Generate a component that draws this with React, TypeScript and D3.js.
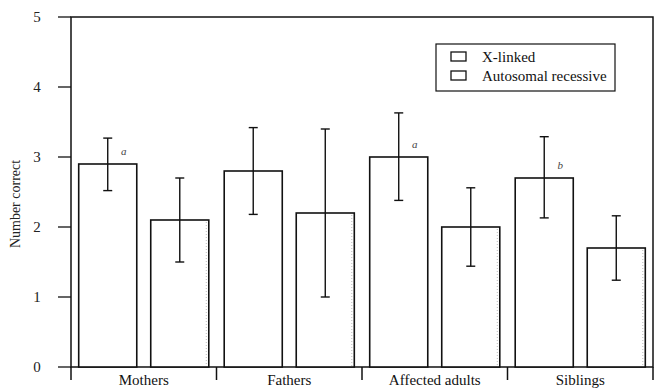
import { useEffect, useRef } from "react";
import * as d3 from "d3";

const categories = ["Mothers", "Fathers", "Affected adults", "Siblings"];
const seriesNames = ["X-linked", "Autosomal recessive"];

const xLinkedMean = [2.9, 2.8, 3.0, 2.7];
const xLinkedLow = [2.52, 2.18, 2.38, 2.13];
const xLinkedHigh = [3.27, 3.42, 3.63, 3.29];

const arMean = [2.1, 2.2, 2.0, 1.7];
const arLow = [1.5, 1.0, 1.44, 1.24];
const arHigh = [2.7, 3.4, 2.56, 2.16];

const marks = ["a", "", "a", "b"];
const yTicks = [0, 1, 2, 3, 4, 5];

export default function App() {
  const ref = useRef<SVGSVGElement>(null);

  useEffect(() => {
    document.body.style.margin = "0";
    const width = 659;
    const height = 390;
    const left = 71;
    const right = 653;
    const top = 17;
    const bottom = 367;

    const svg = d3.select(ref.current);
    svg.selectAll("*").remove();
    svg.attr("width", width).attr("height", height);

    const x0 = d3.scaleBand().domain(categories).range([left, right]);
    const x1 = d3
      .scaleBand()
      .domain(seriesNames)
      .range([0, x0.bandwidth()])
      .paddingInner(0.194)
      .paddingOuter(0.107);
    const y = d3.scaleLinear().domain([0, 5]).range([bottom, top]);

    const rows = categories.map((c, i) => [
      { cat: c, s: seriesNames[0], v: xLinkedMean[i], lo: xLinkedLow[i], hi: xLinkedHigh[i], mark: marks[i] },
      { cat: c, s: seriesNames[1], v: arMean[i], lo: arLow[i], hi: arHigh[i], mark: "" },
    ]).flat();

    // frame
    svg
      .append("rect")
      .attr("x", left)
      .attr("y", top)
      .attr("width", right - left)
      .attr("height", bottom - top)
      .attr("fill", "none")
      .attr("stroke", "#111")
      .attr("stroke-width", 1.5);

    // bars
    const g = svg.append("g");
    g.selectAll("rect.bar")
      .data(rows)
      .join("rect")
      .attr("class", "bar")
      .attr("x", (d) => x0(d.cat)! + x1(d.s)!)
      .attr("y", (d) => y(d.v))
      .attr("width", x1.bandwidth())
      .attr("height", (d) => y(0) - y(d.v))
      .attr("fill", "white")
      .attr("stroke", "#111")
      .attr("stroke-width", 1.6);

    // faint dotted texture on autosomal recessive bars
    g.selectAll("line.dots")
      .data(rows.filter((d) => d.s === seriesNames[1]))
      .join("line")
      .attr("class", "dots")
      .attr("x1", (d) => x0(d.cat)! + x1(d.s)! + x1.bandwidth() - 2.5)
      .attr("x2", (d) => x0(d.cat)! + x1(d.s)! + x1.bandwidth() - 2.5)
      .attr("y1", (d) => y(d.v) + 2)
      .attr("y2", y(0) - 1)
      .attr("stroke", "#bbb")
      .attr("stroke-dasharray", "1,2");

    // error bars
    const cap = 4.5;
    const cx = (d) => x0(d.cat)! + x1(d.s)! + x1.bandwidth() / 2;
    const eb = g.selectAll("g.err").data(rows).join("g").attr("class", "err").attr("stroke", "#111").attr("stroke-width", 1.4);
    eb.append("line").attr("x1", cx).attr("x2", cx).attr("y1", (d) => y(d.lo)).attr("y2", (d) => y(d.hi));
    eb.append("line").attr("x1", (d) => cx(d) - cap).attr("x2", (d) => cx(d) + cap).attr("y1", (d) => y(d.hi)).attr("y2", (d) => y(d.hi));
    eb.append("line").attr("x1", (d) => cx(d) - cap).attr("x2", (d) => cx(d) + cap).attr("y1", (d) => y(d.lo)).attr("y2", (d) => y(d.lo));

    // significance marks
    g.selectAll("text.mark")
      .data(rows.filter((d) => d.mark))
      .join("text")
      .attr("class", "mark")
      .attr("x", (d) => cx(d) + 16)
      .attr("y", (d) => y(d.v) - 9)
      .attr("text-anchor", "middle")
      .attr("font-style", "italic")
      .attr("font-size", 11)
      .attr("fill", "#444")
      .text((d) => d.mark);

    // y axis ticks
    const ya = svg.append("g");
    ya.selectAll("line")
      .data(yTicks)
      .join("line")
      .attr("x1", left - 13)
      .attr("x2", left)
      .attr("y1", (d) => y(d))
      .attr("y2", (d) => y(d))
      .attr("stroke", "#111")
      .attr("stroke-width", 1.3);
    ya.selectAll("text")
      .data(yTicks)
      .join("text")
      .attr("x", left - 34)
      .attr("y", (d) => y(d))
      .attr("dy", "0.35em")
      .attr("text-anchor", "middle")
      .attr("font-size", 15)
      .attr("fill", "#222")
      .text((d) => d);
    svg
      .append("line")
      .attr("x1", left)
      .attr("x2", left)
      .attr("y1", bottom)
      .attr("y2", bottom + 13)
      .attr("stroke", "#111")
      .attr("stroke-width", 1.5);

    svg
      .append("text")
      .attr("transform", `translate(20,${(top + bottom) / 2 + 12}) rotate(-90)`)
      .attr("text-anchor", "middle")
      .attr("font-size", 14)
      .attr("fill", "#222")
      .text("Number correct");

    // x axis separators and labels
    svg
      .append("g")
      .selectAll("line")
      .data(categories)
      .join("line")
      .attr("x1", (d) => x0(d)! + x0.bandwidth())
      .attr("x2", (d) => x0(d)! + x0.bandwidth())
      .attr("y1", bottom)
      .attr("y2", bottom + 13)
      .attr("stroke", "#111")
      .attr("stroke-width", 1.5);
    svg
      .append("g")
      .selectAll("text")
      .data(categories)
      .join("text")
      .attr("x", (d) => x0(d)! + x0.bandwidth() / 2)
      .attr("y", bottom + 18)
      .attr("text-anchor", "middle")
      .attr("font-size", 15)
      .attr("fill", "#111")
      .text((d) => d);

    // legend
    const lg = svg.append("g").attr("transform", "translate(436,44)");
    lg.append("rect").attr("width", 179).attr("height", 47).attr("fill", "white").attr("stroke", "#111").attr("stroke-width", 1.2);
    seriesNames.forEach((s, i) => {
      lg.append("rect")
        .attr("x", 15)
        .attr("y", 8 + i * 19)
        .attr("width", 15)
        .attr("height", 9)
        .attr("fill", "white")
        .attr("stroke", "#111")
        .attr("stroke-width", 1.3);
      lg.append("text")
        .attr("x", 46)
        .attr("y", 13 + i * 19)
        .attr("dy", "0.35em")
        .attr("font-size", 15)
        .attr("fill", "#111")
        .text(s);
    });
  }, []);

  return (
    <svg
      ref={ref}
      style={{ position: "absolute", left: 0, top: 0, fontFamily: "'Liberation Serif', 'Times New Roman', Times, serif" }}
    />
  );
}
